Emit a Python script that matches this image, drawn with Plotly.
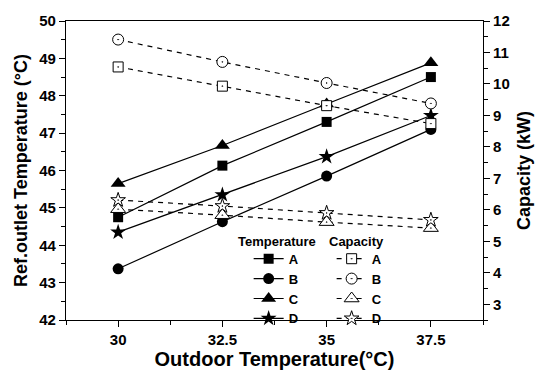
import plotly.graph_objects as go

outdoor = [30, 32.5, 35, 37.5]
series_names = ["A", "B", "C", "D"]

temp_A = [44.75, 46.13, 47.30, 48.50]
temp_B = [43.37, 44.63, 45.85, 47.10]
temp_C = [45.65, 46.67, 47.78, 48.88]
temp_D = [44.35, 45.35, 46.37, 47.47]

cap_A = [10.54, 9.93, 9.31, 8.74]
cap_B = [11.41, 10.70, 10.03, 9.38]
cap_C = [6.02, 5.83, 5.61, 5.42]
cap_D = [6.31, 6.12, 5.90, 5.68]

temps = [temp_A, temp_B, temp_C, temp_D]
caps = [cap_A, cap_B, cap_C, cap_D]
fill_symbols = ["square", "circle", "triangle-up", "star"]
open_symbols = ["square-dot", "circle-dot", "triangle-up-dot", "star-dot"]
fill_sizes = [10, 11, 13, 12]
open_sizes = [10, 11, 13, 11]

FONT = "Liberation Sans, Arial, sans-serif"

fig = go.Figure()
for name, vals, sym, sz in zip(series_names, temps, fill_symbols, fill_sizes):
    fig.add_trace(go.Scatter(
        x=outdoor, y=vals, name=name, mode="lines+markers",
        line=dict(color="black", width=1.2),
        marker=dict(symbol=sym, size=sz, color="black", line=dict(width=0)),
        legend="legend", yaxis="y",
    ))
for name, vals, sym, sz in zip(series_names, caps, open_symbols, open_sizes):
    fig.add_trace(go.Scatter(
        x=outdoor, y=vals, name=name, mode="lines+markers",
        line=dict(color="black", width=1.2, dash="5px,5px"),
        marker=dict(symbol=sym, size=sz, color="white", line=dict(width=1, color="black")),
        legend="legend2", yaxis="y2",
    ))

bold = dict(family=FONT, weight="bold", color="black")

fig.update_layout(
    width=542, height=378,
    margin=dict(l=66, r=49, t=16, b=54),
    paper_bgcolor="white", plot_bgcolor="white",
    showlegend=True,
    font=dict(family=FONT, color="black"),
    xaxis=dict(
        range=[28.75, 38.75], tickvals=[30, 32.5, 35, 37.5], ticktext=["30", "32.5", "35", "37.5"],
        ticks="outside", ticklen=6, tickwidth=1, tickcolor="black",
        minor=dict(tickvals=[28.75, 31.25, 33.75, 36.25, 38.75], ticks="outside", ticklen=4, tickcolor="black"),
        showline=True, linecolor="black", linewidth=1.2, mirror=True,
        showgrid=False, zeroline=False,
        tickfont=dict(size=15, **bold),
        title=dict(text="Outdoor Temperature(°C)", font=dict(size=20, **bold), standoff=4),
    ),
    yaxis=dict(
        range=[42, 50], dtick=1, tick0=42,
        ticks="outside", ticklen=6, tickwidth=1, tickcolor="black",
        minor=dict(dtick=0.5, ticks="outside", ticklen=4, tickcolor="black"),
        showline=True, linecolor="black", linewidth=1.2,
        showgrid=False, zeroline=False,
        tickfont=dict(size=15, **bold),
        title=dict(text="Ref.outlet Temperature (°C)", font=dict(size=18, **bold), standoff=6),
    ),
    yaxis2=dict(
        range=[2.5, 12], tickvals=[3, 4, 5, 6, 7, 8, 9, 10, 11, 12], overlaying="y", side="right",
        ticks="outside", ticklen=6, tickwidth=1, tickcolor="black",
        minor=dict(tickvals=[2.5, 3.5, 4.5, 5.5, 6.5, 7.5, 8.5, 9.5, 10.5, 11.5], ticks="outside", ticklen=4, tickcolor="black"),
        showline=True, linecolor="black", linewidth=1.2,
        showgrid=False, zeroline=False,
        tickfont=dict(size=15, **bold),
        title=dict(text="Capacity (kW)", font=dict(size=18, **bold), standoff=8),
    ),
    legend=dict(
        x=0.438, y=0.255, xanchor="left", yanchor="top",
        bgcolor="rgba(0,0,0,0)", borderwidth=0,
        font=dict(size=13, **bold), itemwidth=30, tracegroupgap=0,
    ),
    legend2=dict(
        x=0.637, y=0.255, xanchor="left", yanchor="top",
        bgcolor="rgba(0,0,0,0)", borderwidth=0,
        font=dict(size=13, **bold), itemwidth=30, tracegroupgap=0,
    ),
    annotations=[
        dict(text="Temperature", xref="paper", yref="paper", x=(240 - 66) / 427, y=1 - (243 - 16) / 308,
             xanchor="left", yanchor="middle", showarrow=False, font=dict(size=13, **bold)),
        dict(text="Capacity", xref="paper", yref="paper", x=(333 - 66) / 427, y=1 - (243 - 16) / 308,
             xanchor="left", yanchor="middle", showarrow=False, font=dict(size=13, **bold)),
    ],
)

fig.write_html("out.html")
